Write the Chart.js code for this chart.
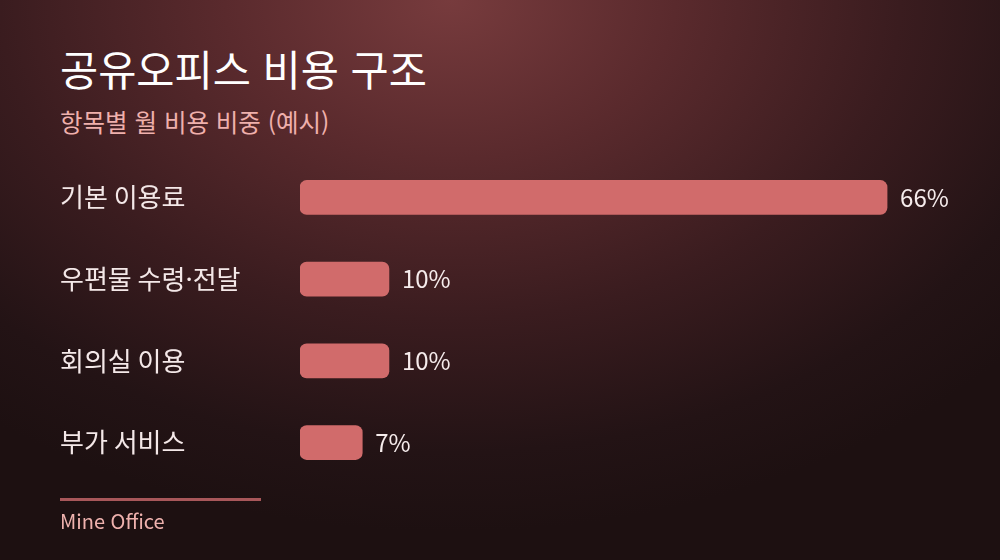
<!DOCTYPE html>
<html lang="ko">
<head>
<meta charset="utf-8">
<script src="https://cdn.jsdelivr.net/npm/chart.js@4"></script>
<style>
    html, body {
        margin: 0;
        padding: 0;
    }
    body {
        width: 1000px;
        height: 560px;
        overflow: hidden;
        position: relative;
        font-family: "Noto Sans CJK KR", "Noto Sans", sans-serif;
        background: radial-gradient(ellipse 75% 95% at 45% 0%, #773b3d 0%, #5a2a2d 30%, #3a1c1f 60%, #231315 85%, #1d1011 100%);
    }
    .title {
        position: absolute;
        left: 60px;
        top: 48px;
        font-size: 41.5px;
        font-weight: 400;
        color: #ffffff;
        line-height: 1;
    }
    .subtitle {
        position: absolute;
        left: 60px;
        top: 110px;
        font-size: 24.5px;
        color: #efb0ac;
        line-height: 1;
    }
    .chart-box {
        position: absolute;
        left: 0;
        top: 138px;
        width: 1000px;
        height: 364px;
    }
    .rule {
        position: absolute;
        left: 60px;
        top: 498px;
        width: 201px;
        height: 3px;
        background: #a8575a;
    }
    .source {
        position: absolute;
        left: 60px;
        top: 511px;
        font-size: 20px;
        color: #efb2ae;
        line-height: 1;
    }
</style>
</head>
<body>
<div class="title">공유오피스 비용 구조</div>
<div class="subtitle">항목별 월 비용 비중 (예시)</div>
<div class="chart-box"><canvas id="barChart"></canvas></div>
<div class="rule"></div>
<div class="source">Mine Office</div>

<script>
const categories = ["기본 이용료", "우편물 수령·전달", "회의실 이용", "부가 서비스"];
const shareValues = [66, 10, 10, 7];

// value labels at the end of each bar
const valueLabels = {
    id: "valueLabels",
    afterDatasetsDraw(chart) {
        const ctx = chart.ctx;
        const meta = chart.getDatasetMeta(0);
        ctx.save();
        ctx.font = '24px "Noto Sans CJK KR", sans-serif';
        ctx.fillStyle = "#f6ecec";
        ctx.textAlign = "left";
        ctx.textBaseline = "middle";
        meta.data.forEach(function (bar, i) {
            ctx.fillText(shareValues[i] + "%", bar.x + 13, bar.y);
        });
        ctx.restore();
    },
};

document.addEventListener("DOMContentLoaded", function () {
    const barCanvas = document.getElementById("barChart");
    new Chart(barCanvas, {
        type: "bar",
        data: {
            labels: categories,
            datasets: [
                {
                    data: shareValues,
                    backgroundColor: "#d16b6b",
                    borderRadius: 7,
                    borderSkipped: false,
                    barThickness: 34,
                },
            ],
        },
        options: {
            indexAxis: "y",
            responsive: true,
            maintainAspectRatio: false,
            animation: false,
            layout: {
                padding: { left: 60, right: 40, top: 0, bottom: 0 },
            },
            plugins: {
                legend: { display: false },
                tooltip: { enabled: false },
            },
            scales: {
                x: {
                    display: false,
                    min: 0,
                    max: 74.2,
                },
                y: {
                    grid: { display: false },
                    border: { display: false },
                    ticks: {
                        crossAlign: "far",
                        color: "#f4e8e8",
                        font: { family: '"Noto Sans CJK KR", sans-serif', size: 26 },
                    },
                    afterFit(scale) {
                        scale.width = 240;
                    },
                },
            },
        },
        plugins: [valueLabels],
    });
});
</script>
</body>
</html>
